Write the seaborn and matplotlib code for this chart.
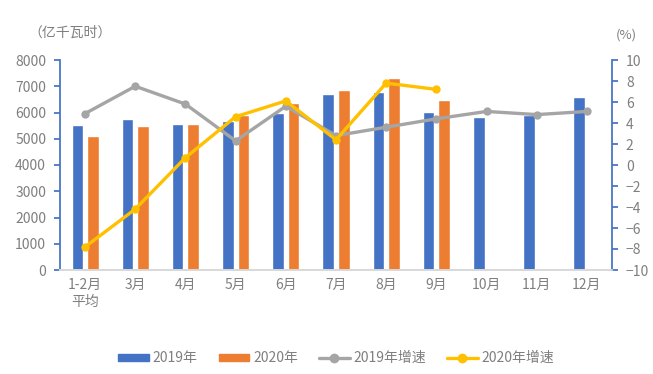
import numpy as np
import pandas as pd
import seaborn as sns
import matplotlib.pyplot as plt
from matplotlib.lines import Line2D
from matplotlib.patches import Patch

# —— DATA —— #
months = ['1-2月\n平均', '3月', '4月', '5月', '6月', '7月', '8月', '9月', '10月', '11月', '12月']
use_2019 = [5520, 5750, 5550, 5670, 6000, 6690, 6780, 6030, 5820, 5900, 6590]
use_2020 = [5100, 5500, 5570, 5900, 6360, 6840, 7300, 6470, np.nan, np.nan, np.nan]
growth_2019 = [4.9, 7.5, 5.8, 2.3, 5.6, 2.8, 3.6, 4.4, 5.1, 4.8, 5.1]
growth_2020 = [-7.8, -4.2, 0.7, 4.6, 6.1, 2.4, 7.8, 7.2]

BLUE, ORANGE, GRAY, YELLOW = '#4472C4', '#ED7D31', '#A5A5A5', '#FFC000'
TEXT = '#7F7F7F'

sns.set_theme(style='white')
plt.rcParams['font.family'] = ['Noto Sans CJK SC', 'DejaVu Sans']

bars = pd.DataFrame({
    'month': months * 2,
    'year': ['2019年'] * len(months) + ['2020年'] * len(months),
    'value': use_2019 + use_2020,
}).dropna()

fig = plt.figure(figsize=(6.53, 3.74), dpi=100)
ax = fig.add_axes([60 / 653, 1 - 270 / 374, 552 / 653, 210 / 374])

sns.barplot(data=bars, x='month', y='value', hue='year', order=months,
            palette=[BLUE, ORANGE], width=0.62, gap=0.26, saturation=1,
            legend=False, ax=ax)
ax.set_xlim(-0.5, len(months) - 0.5)
ax.set_ylim(0, 8000)
ax.set_yticks(range(0, 8001, 1000))
ax.set_xlabel('')
ax.set_ylabel('')

ax2 = ax.twinx()
pos = np.arange(len(months))
sns.lineplot(x=pos[:len(growth_2019)], y=growth_2019, color=GRAY, lw=2.4,
             marker='o', markersize=6, markeredgewidth=0, ax=ax2)
sns.lineplot(x=pos[:len(growth_2020)], y=growth_2020, color=YELLOW, lw=2.4,
             marker='o', markersize=6, markeredgewidth=0, ax=ax2)
ax2.set_ylim(-10, 10)
ax2.set_yticks(range(-10, 11, 2))
ax2.set_xlim(-0.5, len(months) - 0.5)

for a in (ax, ax2):
    a.spines['top'].set_visible(False)
    a.spines['bottom'].set_color('#D9D9D9')
    a.tick_params(axis='x', length=0, colors=TEXT, labelsize=10, pad=6)
    a.grid(False)
ax.spines['right'].set_visible(False)
ax.spines['left'].set_color(BLUE)
ax2.spines['left'].set_visible(False)
ax2.spines['right'].set_color(BLUE)
ax.tick_params(axis='y', length=4, color=BLUE, labelcolor=TEXT, labelsize=10, pad=6, left=True)
ax2.tick_params(axis='y', length=4, color=BLUE, labelcolor=TEXT, labelsize=10, pad=6, right=True)

fig.text(28 / 653, 1 - 33 / 374, '（亿千瓦时）', color=TEXT, fontsize=10, va='center')
fig.text(616 / 653, 1 - 35 / 374, '(%)', color=TEXT, fontsize=9.5, va='center')

handles = [
    Patch(color=BLUE, label='2019年'),
    Patch(color=ORANGE, label='2020年'),
    Line2D([], [], color=GRAY, lw=2.4, marker='o', markersize=6, label='2019年增速'),
    Line2D([], [], color=YELLOW, lw=2.4, marker='o', markersize=6, label='2020年增速'),
]
leg = fig.legend(handles=handles, loc='center', bbox_to_anchor=(0.515, 1 - 358 / 374),
                 ncol=4, frameon=False, fontsize=10, handlelength=2.2,
                 handleheight=0.4, columnspacing=1.5, handletextpad=0.3)
for t in leg.get_texts():
    t.set_color(TEXT)

fig.savefig('out.png', dpi=100)
